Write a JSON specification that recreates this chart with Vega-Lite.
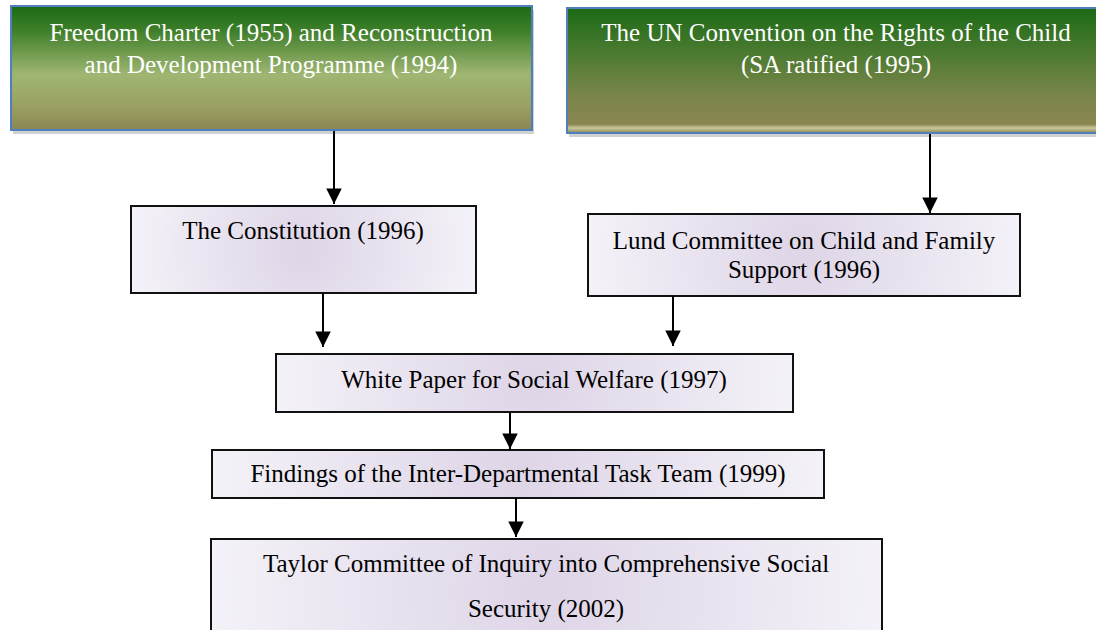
{
  "$schema": "https://vega.github.io/schema/vega-lite/v6.json",
  "width": 1096,
  "height": 630,
  "padding": 0,
  "autosize": {"type": "none"},
  "background": "white",
  "config": {"view": {"stroke": null}},
  "datasets": {
    "boxes": [
      {"id": "freedom", "tier": "top", "x1": 11, "x2": 532, "y1": 6, "y2": 130},
      {"id": "un", "tier": "top", "x1": 567, "x2": 1106, "y1": 8, "y2": 133},
      {"id": "constitution", "tier": "lower", "x1": 131, "x2": 476, "y1": 206, "y2": 293},
      {"id": "lund", "tier": "lower", "x1": 588, "x2": 1020, "y1": 214, "y2": 296},
      {"id": "whitepaper", "tier": "lower", "x1": 276, "x2": 793, "y1": 354, "y2": 412},
      {"id": "findings", "tier": "lower", "x1": 212, "x2": 824, "y1": 450, "y2": 498},
      {"id": "taylor", "tier": "lower", "x1": 211, "x2": 882, "y1": 539, "y2": 645}
    ],
    "labels": [
      {"tier": "top", "x": 271, "y": 33, "text": "Freedom Charter (1955) and Reconstruction"},
      {"tier": "top", "x": 271, "y": 65, "text": "and Development Programme (1994)"},
      {"tier": "top", "x": 836, "y": 33, "text": "The UN Convention on the Rights of the Child"},
      {"tier": "top", "x": 836, "y": 65, "text": "(SA ratified (1995)"},
      {"tier": "lower", "x": 303, "y": 231, "text": "The Constitution (1996)"},
      {"tier": "lower", "x": 804, "y": 241, "text": "Lund Committee on Child and Family"},
      {"tier": "lower", "x": 804, "y": 270, "text": "Support (1996)"},
      {"tier": "lower", "x": 534, "y": 380, "text": "White Paper for Social Welfare (1997)"},
      {"tier": "lower", "x": 518, "y": 474, "text": "Findings of the Inter-Departmental Task Team (1999)"},
      {"tier": "lower", "x": 546, "y": 564, "text": "Taylor Committee of Inquiry into Comprehensive Social"},
      {"tier": "lower", "x": 546, "y": 609, "text": "Security (2002)"}
    ],
    "arrows": [
      {"from": "freedom", "to": "constitution", "x": 334, "y1": 131, "y2": 204},
      {"from": "un", "to": "lund", "x": 930, "y1": 134, "y2": 213},
      {"from": "constitution", "to": "whitepaper", "x": 323, "y1": 293, "y2": 347},
      {"from": "lund", "to": "whitepaper", "x": 673, "y1": 296, "y2": 346},
      {"from": "whitepaper", "to": "findings", "x": 510, "y1": 412, "y2": 449},
      {"from": "findings", "to": "taylor", "x": 516, "y1": 498, "y2": 537}
    ]
  },
  "layer": [
    {
      "data": {"name": "boxes"},
      "transform": [{"filter": "datum.tier == 'top'"}],
      "mark": {"type": "rect", "fill": "#9a9a9a", "opacity": 0.45, "xOffset": 2, "x2Offset": 2, "yOffset": 4, "y2Offset": 4, "clip": true},
      "encoding": {
        "x": {"field": "x1", "type": "quantitative", "scale": {"domain": [0, 1096], "nice": false, "zero": false}, "axis": null},
        "x2": {"field": "x2"},
        "y": {"field": "y1", "type": "quantitative", "scale": {"domain": [0, 630], "nice": false, "zero": false, "reverse": true}, "axis": null},
        "y2": {"field": "y2"}
      }
    },
    {
      "data": {"name": "boxes"},
      "transform": [{"filter": "datum.id == 'freedom'"}],
      "mark": {
        "type": "rect", "clip": true, "stroke": "#4f7fbf", "strokeWidth": 2,
        "fill": {"gradient": "linear", "x1": 0, "y1": 0, "x2": 0, "y2": 1,
          "stops": [
            {"offset": 0, "color": "#1b6a14"},
            {"offset": 0.2, "color": "#3f7f2a"},
            {"offset": 0.55, "color": "#9fb672"},
            {"offset": 0.8, "color": "#9aa163"},
            {"offset": 1, "color": "#8d8653"}
          ]}
      },
      "encoding": {
        "x": {"field": "x1", "type": "quantitative", "scale": {"domain": [0, 1096], "nice": false, "zero": false}, "axis": null},
        "x2": {"field": "x2"},
        "y": {"field": "y1", "type": "quantitative", "scale": {"domain": [0, 630], "nice": false, "zero": false, "reverse": true}, "axis": null},
        "y2": {"field": "y2"}
      }
    },
    {
      "data": {"name": "boxes"},
      "transform": [{"filter": "datum.id == 'un'"}],
      "mark": {
        "type": "rect", "clip": true, "stroke": "#4f7fbf", "strokeWidth": 2,
        "fill": {"gradient": "linear", "x1": 0, "y1": 0, "x2": 0, "y2": 1,
          "stops": [
            {"offset": 0, "color": "#1b6a16"},
            {"offset": 0.35, "color": "#4a7a30"},
            {"offset": 0.7, "color": "#7a8549"},
            {"offset": 0.93, "color": "#8b8651"},
            {"offset": 0.96, "color": "#c9c79c"},
            {"offset": 1, "color": "#8b8651"}
          ]}
      },
      "encoding": {
        "x": {"field": "x1", "type": "quantitative", "scale": {"domain": [0, 1096], "nice": false, "zero": false}, "axis": null},
        "x2": {"field": "x2"},
        "y": {"field": "y1", "type": "quantitative", "scale": {"domain": [0, 630], "nice": false, "zero": false, "reverse": true}, "axis": null},
        "y2": {"field": "y2"}
      }
    },
    {
      "data": {"name": "boxes"},
      "transform": [{"filter": "datum.tier == 'lower'"}],
      "mark": {
        "type": "rect", "clip": true, "stroke": "#111111", "strokeWidth": 2,
        "fill": {"gradient": "radial", "x1": 0.5, "y1": 0.5, "r1": 0, "x2": 0.5, "y2": 0.5, "r2": 0.5,
          "stops": [
            {"offset": 0, "color": "#ded5e7"},
            {"offset": 0.6, "color": "#ebe6f1"},
            {"offset": 1, "color": "#f4f2f8"}
          ]}
      },
      "encoding": {
        "x": {"field": "x1", "type": "quantitative", "scale": {"domain": [0, 1096], "nice": false, "zero": false}, "axis": null},
        "x2": {"field": "x2"},
        "y": {"field": "y1", "type": "quantitative", "scale": {"domain": [0, 630], "nice": false, "zero": false, "reverse": true}, "axis": null},
        "y2": {"field": "y2"}
      }
    },
    {
      "data": {"name": "arrows"},
      "mark": {"type": "rule", "stroke": "#000000", "strokeWidth": 2},
      "encoding": {
        "x": {"field": "x", "type": "quantitative", "scale": {"domain": [0, 1096], "nice": false, "zero": false}, "axis": null},
        "y": {"field": "y1", "type": "quantitative", "scale": {"domain": [0, 630], "nice": false, "zero": false, "reverse": true}, "axis": null},
        "y2": {"field": "y2"}
      }
    },
    {
      "data": {"name": "arrows"},
      "mark": {"type": "point", "shape": "M-1,-1L1,-1L0,1Z", "size": 240, "filled": true, "fill": "#000000", "opacity": 1, "strokeWidth": 0, "yOffset": -7.7},
      "encoding": {
        "x": {"field": "x", "type": "quantitative", "scale": {"domain": [0, 1096], "nice": false, "zero": false}, "axis": null},
        "y": {"field": "y2", "type": "quantitative", "scale": {"domain": [0, 630], "nice": false, "zero": false, "reverse": true}, "axis": null}
      }
    },
    {
      "data": {"name": "labels"},
      "transform": [{"filter": "datum.tier == 'top'"}],
      "mark": {"type": "text", "font": "Liberation Serif", "fontSize": 25, "align": "center", "baseline": "middle", "fill": "#ffffff"},
      "encoding": {
        "x": {"field": "x", "type": "quantitative", "scale": {"domain": [0, 1096], "nice": false, "zero": false}, "axis": null},
        "y": {"field": "y", "type": "quantitative", "scale": {"domain": [0, 630], "nice": false, "zero": false, "reverse": true}, "axis": null},
        "text": {"field": "text"}
      }
    },
    {
      "data": {"name": "labels"},
      "transform": [{"filter": "datum.tier == 'lower'"}],
      "mark": {"type": "text", "font": "Liberation Serif", "fontSize": 25, "align": "center", "baseline": "middle", "fill": "#000000"},
      "encoding": {
        "x": {"field": "x", "type": "quantitative", "scale": {"domain": [0, 1096], "nice": false, "zero": false}, "axis": null},
        "y": {"field": "y", "type": "quantitative", "scale": {"domain": [0, 630], "nice": false, "zero": false, "reverse": true}, "axis": null},
        "text": {"field": "text"}
      }
    }
  ]
}
